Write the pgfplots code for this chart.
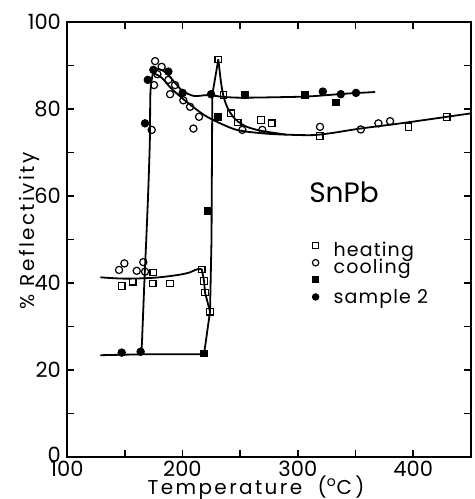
\documentclass[border=0pt]{standalone}
\usepackage{pgfplots}
\pgfplotsset{compat=1.18}
\usepackage{fontspec}
\setmainfont{Poppins}
\begin{document}
\begin{tikzpicture}
\begin{axis}[
  scale only axis, width=202pt, height=217.5pt,
  xmin=100, xmax=450, ymin=0, ymax=100,
  xtick={100,150,...,450}, xticklabels={100,,200,,300,,400,},
  ytick={0,10,...,100}, yticklabels={\raisebox{2.5pt}{0},,20,,40,,60,,80,,100},
  tick align=inside, major tick length=3.5pt,
  every tick/.style={line width=0.9pt, black},
  axis line style={line width=1pt},
  tick label style={font=\fontsize{10.5}{12}\selectfont},
  xticklabel style={inner ysep=0pt, yshift=-2pt},
  yticklabel style={xshift=0.5pt, inner ysep=0pt},
  /pgf/number format/assume math mode=true,
  xlabel={Temperature~~(\textsuperscript{o}C\,)},
  ylabel={\%~Reflectivity},
  every axis x label/.style={at={(axis description cs:0.468,0)}, yshift=-18.6pt, anchor=base,
    inner ysep=0pt, font=\fontsize{10}{12}\selectfont\addfontfeature{LetterSpace=12}},
  every axis y label/.style={at={(axis description cs:-0.094,0.52)}, rotate=90, anchor=center,
    font=\fontsize{10}{12}\selectfont\addfontfeature{LetterSpace=12}},
  legend cell align=left,
  legend style={at={(axis cs:307,50.5)}, anchor=north west, draw=none, fill=none,
    font=\fontsize{9.5}{11}\selectfont\addfontfeature{LetterSpace=6}, row sep=0pt, nodes={inner ysep=0pt}},
]
\coordinate (SW) at (rel axis cs:0,0);
\coordinate (NE) at (rel axis cs:1,1);

% curves
\addplot[forget plot, line width=0.9pt, smooth] coordinates {
  (129,41.3) (150,41.0) (175,41.2) (195,41.8) (206,42.4) (212,43.1) (216.7,43.2)};
\addplot[forget plot, line width=0.9pt] coordinates {
  (216.7,43.2) (218.7,40.5) (219.6,37.8) (223.9,33.4)};
\addplot[forget plot, line width=0.9pt] coordinates {
  (129,23.4) (164,23.6) (218.7,23.6) (223.9,33.4) (225.2,50) (225.6,70) (225.9,83.3) (231.1,91.4)};
\addplot[forget plot, line width=0.9pt, smooth] coordinates {
  (231.1,91.4) (233.5,86) (236,82.5) (240,79.8) (246,77.6) (255,76) (268,75) (290,74.1)};
\addplot[forget plot, line width=0.9pt, smooth] coordinates {
  (174.5,88.3) (182,87.2) (190,84.8) (202,82) (216.7,79) (228,77.3) (247,75.2) (270,74.4)
  (290,74.1) (313,74) (330,74.5) (354,75.5) (389,76.7) (429,78.2) (450,79)};
\addplot[forget plot, line width=0.9pt, smooth] coordinates {
  (162,23.8) (164.5,24.8) (165.5,30) (167,40) (169,52) (170.5,62) (171.8,73) (172.3,84) (174.5,88.3)};
\addplot[forget plot, line width=0.9pt, smooth] coordinates {
  (174.5,88.3) (179,89.2) (186,88.3) (193,86.2) (200,84.2) (210,83) (222,83.2) (235,82.8)
  (250,82.6) (280,82.7) (310,82.9) (340,83.5) (367,83.9)};

% heating
\addplot[only marks, mark=square, mark size=1.65pt, mark options={fill=white, line width=0.6pt},
  legend image code/.code={\path[draw=none] (-1pt,0) -- (7pt,0);
    \draw[mark=square, mark size=1.55pt, mark options={fill=white, line width=0.6pt}] plot coordinates {(0,2.6pt)};}]
coordinates {
  (147.4,39.3) (156.9,40.3) (174.3,39.9) (189.3,39.9) (174.8,42.4)
  (216.7,43.1) (218.7,40.5) (219.6,37.8) (223.9,33.4)
  (231.1,91.4) (235.5,83.2) (242.1,79.0) (247.9,76.9) (268.1,77.5) (277.4,76.7)
  (319.0,73.8) (395.8,75.9) (429.0,78.2)};
\addlegendentry{heating\rule[-2.65pt]{0pt}{9.65pt}}

% cooling
\addplot[only marks, mark=o, mark size=1.8pt, mark options={fill=white, line width=0.6pt},
  legend image code/.code={\path[draw=none] (-1pt,0) -- (7pt,0);
    \draw[mark=o, mark size=1.6pt, mark options={fill=white, line width=0.6pt}] plot coordinates {(0,2.6pt)};}]
coordinates {
  (176.3,91.0) (182.0,89.7) (178.3,88.0) (187.8,86.7) (175.4,85.5) (193.6,85.5)
  (189.3,83.4) (200.8,82.0) (206.6,80.5) (214.4,78.2) (209.5,75.5) (173.4,75.2)
  (251.9,75.2) (269.2,75.2) (319.2,75.9) (354.5,75.3) (369.8,76.7) (379.9,77.2)
  (149.7,44.5) (145.1,43.0) (160.4,42.8) (166.1,44.8) (167.6,42.6)};
\addlegendentry{cooling\rule[-2.65pt]{0pt}{7pt}}

% sample 2
\addplot[only marks, mark=square*, mark size=1.7pt,
  legend image code/.code={\path[draw=none] (-1pt,-1.65pt) -- (7pt,-1.65pt);
    \draw[mark=square*, mark size=1.5pt] plot coordinates {(0,8.65pt)};
    \draw[mark=*, mark size=1.65pt] plot coordinates {(0,0pt)};}]
coordinates {
  (254.2,83.2) (230.6,78.1) (306.2,83.2) (333.1,81.5) (222.4,56.6) (218.7,23.8)};
\addlegendentry{\raisebox{3.9pt}{sample 2}\rule{0pt}{15.4pt}}
\addplot[forget plot, only marks, mark=*, mark size=1.9pt] coordinates {
  (170,86.7) (174.8,89.0) (187.8,88.6) (200.2,83.7) (224.8,83.4) (321.6,84.0)
  (337.2,83.4) (350.4,83.7) (167.6,76.7) (147.4,24.0) (163.8,24.2)};

\node[font=\fontsize{14}{16}\selectfont] at (axis cs:340,60.9) {SnPb};
\end{axis}
\pgfresetboundingbox
\path ([shift={(-33.5pt,-21pt)}]SW) rectangle ([shift={(2pt,11pt)}]NE);
\end{tikzpicture}
\end{document}
